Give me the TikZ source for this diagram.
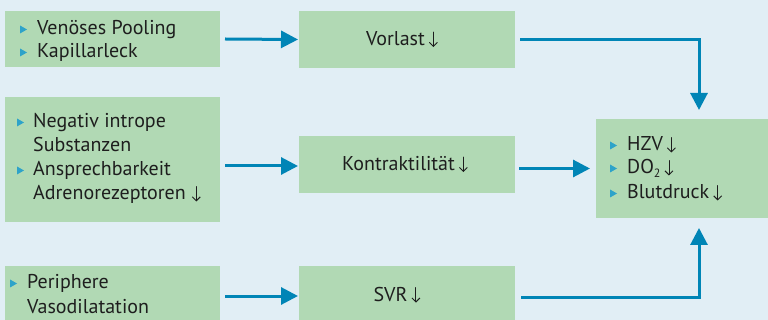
\documentclass[tikz,border=0pt]{standalone}
\usepackage{fontspec}
\setmainfont{PT Sans}
\usetikzlibrary{arrows.meta}
\definecolor{bg}{HTML}{E1EEF5}
\definecolor{boxg}{HTML}{B1D9B4}
\definecolor{arr}{HTML}{0085B6}
\definecolor{bulc}{HTML}{2EA3C9}
\definecolor{txt}{HTML}{1E1E1E}
\newcommand{\dn}{\hspace{4pt}\tikz[baseline=0pt,x=1pt,y=1pt]\draw[txt,line width=0.95pt,line cap=round,-{Straight Barb[length=4pt,width=8pt]}] (0,13.5) -- (0,-1.5);}
\begin{document}
\begin{tikzpicture}[x=1pt,y=-1pt,
  box/.style={fill=boxg,draw=none,inner sep=0pt,outer sep=0pt,anchor=north west},
  lbl/.style={anchor=base west,inner sep=0pt,text=txt,font=\fontsize{20}{24}\selectfont},
  ctr/.style={inner sep=0pt,text=txt,font=\fontsize{20}{24}\selectfont},
  flow/.style={draw=arr,line width=3pt,-{Triangle[length=17pt,width=17pt]}},
  bul/.style={fill=bulc}]
\useasboundingbox (0,0) rectangle (768,320);
\fill[bg] (0,0) rectangle (768,320);
\clip (0,0) rectangle (768,320);
% boxes
\node[box,minimum width=215pt,minimum height=56pt] (l1) at (5,11) {};
\node[box,minimum width=215pt,minimum height=125pt] (l2) at (5,97) {};
\node[box,minimum width=215pt,minimum height=62pt] (l3) at (5,266) {};
\node[box,minimum width=216pt,minimum height=57pt] (m1) at (299,11) {};
\node[box,minimum width=216pt,minimum height=57pt] (m2) at (299,136) {};
\node[box,minimum width=216pt,minimum height=62pt] (m3) at (299,266) {};
\node[box,minimum width=206pt,minimum height=99pt] (r) at (596,119) {};
% bullets
\newcommand{\bulat}[2]{\fill[bul] (#1,#2-9.5) -- (#1,#2-1.5) -- (#1+7,#2-5.5) -- cycle;}
\bulat{20}{35}\bulat{20}{58}
\bulat{17}{128}\bulat{17}{176}
\bulat{10}{289}
\bulat{610}{151}\bulat{610}{174}\bulat{610}{199}
% texts
\node[lbl] (t1a) at (37,35) {Venöses Pooling};
\node[lbl] (t1b) at (37,58) {Kapillarleck};
\node[lbl] (t2a) at (33,128) {Negativ intrope};
\node[lbl] (t2b) at (33,152) {Substanzen};
\node[lbl] (t2c) at (33,176) {Ansprechbarkeit};
\node[lbl] (t2d) at (33,200) {Adrenorezeptoren\hspace{2pt}\dn};
\node[lbl] (t3a) at (27,289) {Periphere};
\node[lbl] (t3b) at (27,313) {Vasodilatation};
\node[ctr] (c1) at ([xshift=-5pt]m1) {Vorlast\dn};
\node[ctr] (c2) at ([xshift=-2pt]m2) {Kontraktilität\dn};
\node[ctr] (c3) at ([xshift=-10pt,yshift=2pt]m3) {SVR\dn};
\node[lbl] (ra) at (627,151) {HZV\dn};
\node[lbl] (rb) at (627,174) {DO\raisebox{-4pt}{\fontsize{12}{12}\selectfont 2}\dn};
\node[lbl] (rc) at (627,199) {Blutdruck\dn};
% connectors
\draw[flow] ([xshift=5pt]l1.east) -- ([xshift=-1pt]m1.west);
\draw[flow] ([xshift=5pt]l2.east |- 0,166) -- ([xshift=-1pt]m2.west |- 0,166);
\draw[flow] ([xshift=5pt]l3.east |- 0,296) -- ([xshift=-1pt]m3.west |- 0,296);
\draw[flow] ([xshift=5pt]m1.east) -| ([yshift=9pt]r.north);
\draw[flow] ([xshift=4pt]m2.east |- r.west) -- ([xshift=-6pt]r.west);
\draw[flow] ([xshift=6pt]m3.east |- 0,297) -| ([yshift=-10pt]r.south);
\end{tikzpicture}
\end{document}
